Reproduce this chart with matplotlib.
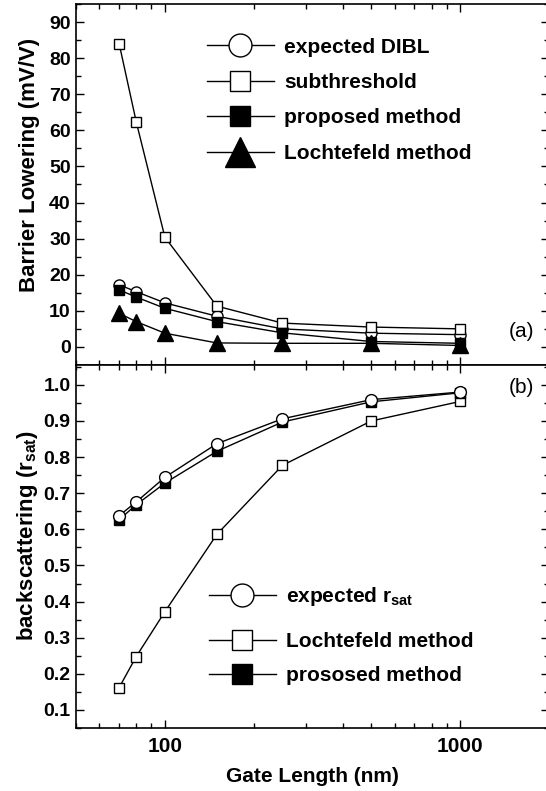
import matplotlib
matplotlib.use("Agg")

import matplotlib.pyplot as plt
from matplotlib.lines import Line2D
from matplotlib.ticker import MultipleLocator, LogLocator, NullFormatter

# Datos
gate_length = [70, 80, 100, 150, 250, 500, 1000]

# (a) barrier lowering (mV/V)
dibl_expected = [17.2, 15.3, 12.2, 8.5, 5.0, 3.8, 3.4]
dibl_subthreshold = [84.0, 62.3, 30.4, 11.3, 6.6, 5.5, 5.0]
dibl_proposed = [15.8, 13.8, 10.7, 7.0, 3.9, 1.5, 1.0]
dibl_lochtefeld = [9.3, 7.0, 3.8, 1.1, 1.0, 1.0, 0.4]

# (b) backscattering r_sat
rsat_expected = [0.638, 0.676, 0.744, 0.837, 0.906, 0.959, 0.980]
rsat_lochtefeld = [0.162, 0.248, 0.372, 0.586, 0.777, 0.900, 0.954]
rsat_proposed = [0.627, 0.668, 0.728, 0.816, 0.897, 0.953, 0.978]

x_ticks = [100, 1000]
x_tick_labels = ["100", "1000"]

plt.rcParams["font.family"] = ["Liberation Sans", "DejaVu Sans"]
plt.rcParams["font.weight"] = "bold"
plt.rcParams["axes.labelweight"] = "bold"
plt.rcParams["font.size"] = 15
plt.rcParams["mathtext.fontset"] = "custom"
plt.rcParams["mathtext.rm"] = "Liberation Sans:bold"
plt.rcParams["mathtext.default"] = "rm"

fig = plt.figure(figsize=(5.46, 7.91), dpi=100)
ax_a = fig.add_axes([0.1392, 0.5386, 0.8663, 0.4564])
ax_b = fig.add_axes([0.1392, 0.0796, 0.8663, 0.4590])

lw = 1.0
k = "black"
leg_kw = dict(loc="upper left", frameon=False, handlelength=3.2, handletextpad=0.5,
              borderpad=0, borderaxespad=0)


def style_axis(ax):
    ax.set_xscale("log")
    ax.set_xlim(50, 2000)
    ax.xaxis.set_major_locator(LogLocator(base=10))
    ax.xaxis.set_minor_locator(LogLocator(base=10, subs=range(2, 10)))
    ax.xaxis.set_minor_formatter(NullFormatter())
    ax.set_xticks(x_ticks, x_tick_labels)
    ax.tick_params(which="both", direction="in", top=True, right=True, width=1.0)
    ax.tick_params(which="major", length=6)
    ax.tick_params(which="minor", length=3.5)
    ax.tick_params(axis="x", which="major", pad=6.5, labelsize=15)
    ax.tick_params(axis="y", which="major", pad=3.8, labelsize=14)
    for s in ax.spines.values():
        s.set_linewidth(1.2)


# Panel (a)
ax_a.plot(gate_length, dibl_expected, "-o", color=k, lw=lw, ms=8, mfc="white", mec=k, mew=1.0)
ax_a.plot(gate_length, dibl_subthreshold, "-s", color=k, lw=lw, ms=7.5, mfc="white", mec=k, mew=1.0)
ax_a.plot(gate_length, dibl_proposed, "-s", color=k, lw=lw, ms=7.5, mfc=k, mec=k, mew=1.0)
ax_a.plot(gate_length, dibl_lochtefeld, "-^", color=k, lw=lw, ms=12, mfc=k, mec=k)
style_axis(ax_a)
ax_a.set_ylim(-5, 95)
ax_a.yaxis.set_major_locator(MultipleLocator(10))
ax_a.yaxis.set_minor_locator(MultipleLocator(5))
ax_a.tick_params(axis="x", labelbottom=False)
ax_a.set_ylabel("Barrier Lowering (mV/V)", fontsize=16)
ax_a.yaxis.set_label_coords(-0.076, 0.555)
ax_a.text(0.968, 0.092, "(a)", transform=ax_a.transAxes, ha="right", va="center",
          fontweight="normal")

handles_a = [
    Line2D([], [], color=k, lw=lw, marker="o", ms=16.5, mfc="white", mec=k, mew=1.0),
    Line2D([], [], color=k, lw=lw, marker="s", ms=14.5, mfc="white", mec=k, mew=1.0),
    Line2D([], [], color=k, lw=lw, marker="s", ms=14.5, mfc=k, mec=k),
    Line2D([], [], color=k, lw=lw, marker="^", ms=21, mfc=k, mec=k),
]
ax_a.legend(handles_a, ["expected DIBL", "subthreshold", "proposed method", "Lochtefeld method"],
            bbox_to_anchor=(0.277, 0.907), labelspacing=0.79, **leg_kw)

# Panel (b)
ax_b.plot(gate_length, rsat_lochtefeld, "-s", color=k, lw=lw, ms=7.5, mfc="white", mec=k, mew=1.0)
ax_b.plot(gate_length, rsat_proposed, "-s", color=k, lw=lw, ms=7.5, mfc=k, mec=k, mew=1.0)
ax_b.plot(gate_length, rsat_expected, "-o", color=k, lw=lw, ms=8.5, mfc="white", mec=k, mew=1.0)
style_axis(ax_b)
ax_b.set_ylim(0.05, 1.055)
ax_b.yaxis.set_major_locator(MultipleLocator(0.1))
ax_b.yaxis.set_minor_locator(MultipleLocator(0.05))
ax_b.yaxis.set_major_formatter(lambda v, p: f"{v:.1f}")
ax_b.set_xlabel("Gate Length (nm)", labelpad=8)
ax_b.set_ylabel("backscattering (r$_{sat}$)", fontsize=16)
ax_b.yaxis.set_label_coords(-0.076, 0.53)
ax_b.text(0.968, 0.939, "(b)", transform=ax_b.transAxes, ha="right", va="center",
          fontweight="normal")

# la leyenda (b) tiene mas espacio tras la primera fila
h_exp = Line2D([], [], color=k, lw=lw, marker="o", ms=16.5, mfc="white", mec=k, mew=1.0)
h_loch = Line2D([], [], color=k, lw=lw, marker="s", ms=14.5, mfc="white", mec=k, mew=1.0)
h_prop = Line2D([], [], color=k, lw=lw, marker="s", ms=14.5, mfc=k, mec=k)
leg1 = ax_b.legend([h_exp], ["expected r$_{sat}$"], bbox_to_anchor=(0.281, 0.3926), **leg_kw)
ax_b.add_artist(leg1)
ax_b.legend([h_loch, h_prop], ["Lochtefeld method", "prososed method"],
            bbox_to_anchor=(0.281, 0.265), labelspacing=0.75, **leg_kw)

fig.savefig("out.png", dpi=100)
plt.close(fig)
